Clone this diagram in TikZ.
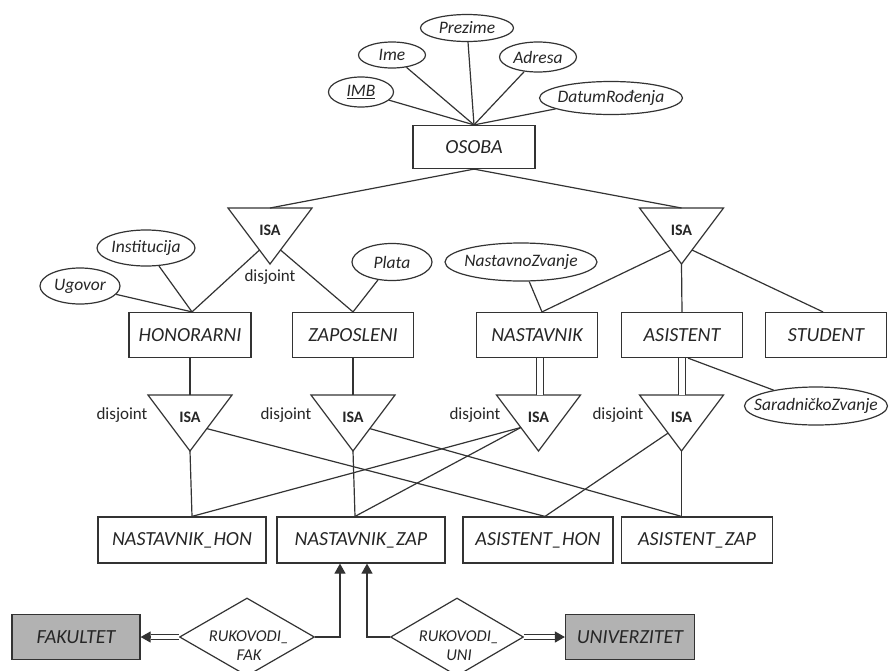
\documentclass[tikz,border=0pt]{standalone}
\usepackage{fontspec}
\setmainfont{Carlito}
\usetikzlibrary{shapes.geometric,arrows.meta,calc}

% text centred on a node without widening it
\newcommand\ctext[1]{\makebox[0pt]{#1}}

% ISA triangle: name, centre x, top y, position of the side points
\newcommand\isatri[4]{%
  \coordinate (#1-bl) at ({#2-42},#3);
  \coordinate (#1-br) at ({#2+42},#3);
  \coordinate (#1-ap) at (#2,{#3+56});
  \coordinate (#1-top) at (#2,#3);
  \draw[isaline] (#1-bl) -- (#1-br) -- (#1-ap) -- cycle;
  \coordinate (#1-l) at ($(#1-bl)!#4!(#1-ap)$);
  \coordinate (#1-r) at ($(#1-br)!#4!(#1-ap)$);
  \node[isalabel] (#1) at (#2,{#3+22}) {ISA};}

\begin{document}
\begin{tikzpicture}[x=1pt,y=-1pt,
  every node/.style={text=black!85},
  ln/.style={draw=black!80,line width=1.2pt},
  isaline/.style={ln,line join=miter},
  ent/.style={ln,rectangle,fill=white,inner sep=0pt,minimum height=45pt,
    font=\fontsize{20}{22}\selectfont\itshape},
  strong/.style={ent,fill=black!30},
  attr/.style={ln,ellipse,fill=white,inner sep=0pt,
    font=\fontsize{17.5}{20}\selectfont\itshape},
  rel/.style={ln,diamond,fill=white,inner sep=0pt,minimum width=135pt,minimum height=78pt},
  reltext/.style={font=\fontsize{16.5}{19}\selectfont\itshape,align=center,inner sep=0pt},
  isalabel/.style={font=\fontsize{16}{18}\selectfont\bfseries,inner sep=0pt},
  disj/.style={font=\fontsize{17}{19}\selectfont,inner sep=0pt},
  total/.style={draw=black!80,line width=1pt,double=white,double distance=6pt},
  dbl/.style={draw=black!80,line width=1pt,double=white,double distance=3.5pt},
  tip/.style={draw=black!80,line width=1.2pt,-{Triangle[length=10pt,width=11pt]}},
  ]
\fill[white] (0,0) rectangle (892,670);
\useasboundingbox (0,0) rectangle (892,670);

% ---------- superclass and its attributes ----------
\node[ent,minimum width=122pt,minimum height=43pt] (osoba) at (474,147) {OSOBA};
\node[attr,minimum width=65pt,minimum height=30pt] (imb) at (361,92) {\ctext{\underline{IMB}}};
\node[attr,minimum width=67pt,minimum height=26pt] (ime) at (392,55) {\ctext{Ime}};
\node[attr,minimum width=93pt,minimum height=27pt] (prez) at (467,28) {\ctext{Prezime}};
\node[attr,minimum width=77pt,minimum height=30pt] (adr) at (538,57) {\ctext{Adresa}};
\node[attr,minimum width=143pt,minimum height=33pt] (dat) at (611,98) {\ctext{DatumRođenja}};
\foreach \a in {imb,ime,prez,adr,dat} \draw[ln] (\a) -- (osoba.north);

% ---------- first level specialisations ----------
\isatri{isaA}{270}{208}{0.75}
\isatri{isaB}{681.5}{208}{0.75}
\node[disj] (djA) at (270,277) {disjoint};

\node[ent,minimum width=122pt] (hon) at (190,335) {HONORARNI};
\node[ent,minimum width=121pt] (zap) at (353,335) {ZAPOSLENI};
\node[ent,minimum width=121pt] (nast) at (537,335) {NASTAVNIK};
\node[ent,minimum width=121pt] (asis) at (682,335) {ASISTENT};
\node[ent,minimum width=121pt] (stud) at (826,335) {STUDENT};

\node[attr,minimum width=80pt,minimum height=36pt] (ugov) at (80,286) {\ctext{Ugovor}};
\node[attr,minimum width=98pt,minimum height=36pt] (inst) at (146,248) {\ctext{Institucija}};
\node[attr,minimum width=80pt,minimum height=37pt] (plata) at (392,262) {\ctext{Plata}};
\node[attr,minimum width=152pt,minimum height=38pt] (nzv) at (521,262) {\ctext{NastavnoZvanje}};
\node[attr,minimum width=143pt,minimum height=38pt] (szv) at (816,406) {\ctext{SaradničkoZvanje}};

\draw[ln] (osoba.south) -- (isaA-top);
\draw[ln] (osoba.south) -- (isaB-top);
\draw[ln] (isaA-l) -- ([xshift=2pt]hon.north);
\draw[ln] (isaA-r) -- (zap.north);
\draw[ln] (isaB-l) -- ([xshift=5pt]nast.north);
\draw[ln] (isaB-ap) -- (asis.north);
\draw[ln] (isaB-r) -- ([xshift=-3pt]stud.north);
\draw[ln] (ugov) -- ([xshift=2pt]hon.north);
\draw[ln] (inst) -- ([xshift=2pt]hon.north);
\draw[ln] (plata) -- (zap.north);
\draw[ln] (nzv) -- ([xshift=5pt]nast.north);
\draw[ln] ([xshift=6pt]asis.south) -- (szv);

% ---------- second level specialisations ----------
\isatri{isa1}{190}{395}{0.6}
\isatri{isa2}{353}{395}{0.6}
\isatri{isa3}{538.5}{395}{0.58}
\isatri{isa4}{681.5}{395}{0.68}
\node[disj] (dj1) at (122,415) {disjoint};
\node[disj] (dj2) at (286,415) {disjoint};
\node[disj] (dj3) at (475,415) {disjoint};
\node[disj] (dj4) at (618,415) {disjoint};

\draw[ln] (hon.south) -- (isa1-top);
\draw[ln] (zap.south) -- (isa2-top);
\draw[total] ([xshift=3pt]nast.south) -- ([xshift=3pt]nast.south |- isa3-top);
\draw[total] (asis.south) -- (asis.south |- isa4-top);

\node[ent,minimum width=168pt,minimum height=46pt] (nhon) at (182,540) {NASTAVNIK\_HON};
\node[ent,minimum width=168pt,minimum height=46pt] (nzap) at (361,540) {NASTAVNIK\_ZAP};
\node[ent,minimum width=150pt,minimum height=46pt] (ahon) at (538,540) {ASISTENT\_HON};
\node[ent,minimum width=151pt,minimum height=46pt] (azap) at (697,540) {ASISTENT\_ZAP};

\coordinate (nhon-t) at ([xshift=2pt]isa1-ap |- nhon.north);
\coordinate (nzap-t) at ([xshift=2pt]isa2-ap |- nzap.north);
\coordinate (ahon-t) at ([xshift=7pt]ahon.north);
\coordinate (azap-t) at (isa4-ap |- azap.north);

\draw[ln] (isa1-ap) -- (nhon-t);
\draw[ln] (isa1-r) -- (ahon-t);
\draw[ln] (isa2-ap) -- (nzap-t);
\draw[ln] (isa2-r) -- (azap-t);
\draw[ln] (isa3-l) -- (nhon-t);
\draw[ln] (isa3-l) -- (nzap-t);
\draw[ln] (isa4-l) -- (ahon-t);
\draw[ln] (isa4-ap) -- (azap-t);

% ---------- relationships ----------
\node[strong,minimum width=128pt] (fak) at (76,637) {FAKULTET};
\node[strong,minimum width=129pt] (uni) at (630,637) {UNIVERZITET};
\node[rel] (rfak) at (247,637) {};
\node[reltext] (rfakt) at (249,646) {RUKOVODI\_\\FAK};
\node[rel,minimum width=133pt] (runi) at (457,637) {};
\node[reltext] (runit) at (459,646) {RUKOVODI\_\\UNI};

\draw[dbl] (rfak.west) -- ([xshift=10pt]fak.east);
\draw[tip] ([xshift=10pt]fak.east) -- (fak.east);
\draw[dbl] (runi.east) -- ([xshift=-10pt]uni.west);
\draw[tip] ([xshift=-10pt]uni.west) -- (uni.west);
\draw[tip] (rfak.east) -| ([xshift=-21pt]nzap.south);
\draw[tip] (runi.west) -| ([xshift=6pt]nzap.south);
\end{tikzpicture}
\end{document}
